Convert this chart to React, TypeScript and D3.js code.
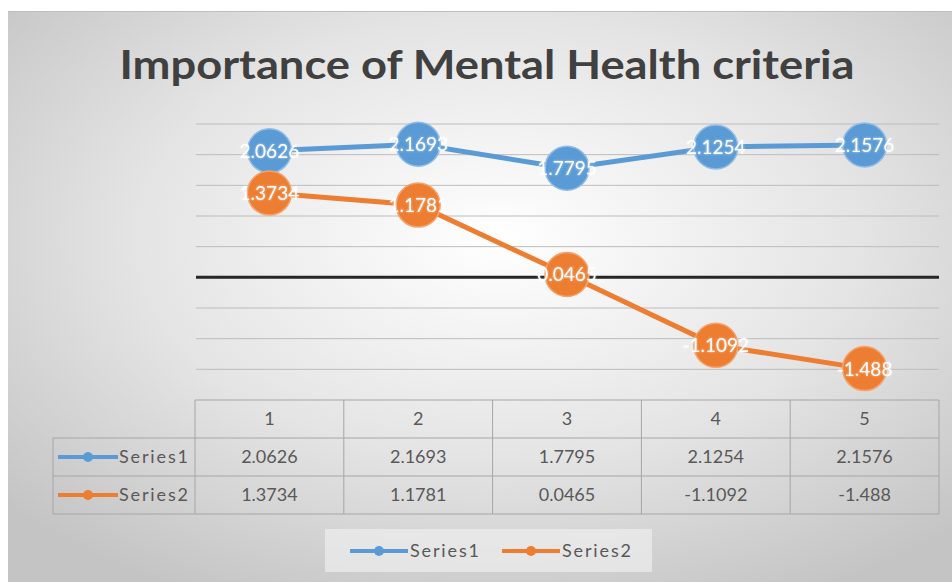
import React from 'react';
import * as d3 from 'd3';

// ── Data ──────────────────────────────────────────────────────────────────────
const CATEGORIES = ['1', '2', '3', '4', '5'];
const SERIES1 = [2.0626, 2.1693, 1.7795, 2.1254, 2.1576];
const SERIES2 = [1.3734, 1.1781, 0.0465, -1.1092, -1.488];
const SERIES_NAMES = ['Series1', 'Series2'];
const Y_TICKS = [-1.5, -1, -0.5, 0, 0.5, 1, 1.5, 2, 2.5];

const COLORS = ['#5B9BD5', '#ED7D31'];
const FONT = 'Lato, "Open Sans", sans-serif';

const W = 952;
const H = 582;

export default function App() {
  const plot = { left: 195, right: 939, top: 124, bottom: 400 };
  const x = d3.scaleBand<string>().domain(CATEGORIES).range([plot.left, plot.right]);
  const y = d3.scaleLinear().domain([-2, 2.5]).range([plot.bottom, plot.top]);
  const cx = (c: string) => (x(c) ?? 0) + x.bandwidth() / 2;

  const line = d3.line<number>()
    .x((_, i) => cx(CATEGORIES[i]))
    .y(d => y(d));

  const series = [SERIES1, SERIES2];

  // data table rows
  const rowH = 38;
  const tableTop = plot.bottom;
  const labelLeft = 53;

  return (
    <>
      <style>{'body{margin:0}'}</style>
      <svg width={W} height={H} style={{ display: 'block', fontFamily: FONT }}>
        <defs>
          <radialGradient id="bg" cx="52%" cy="40%" r="70%">
            <stop offset="0%" stopColor="#ffffff" />
            <stop offset="55%" stopColor="#e4e4e4" />
            <stop offset="100%" stopColor="#c4c4c4" />
          </radialGradient>
          <filter id="glow" x="-20%" y="-40%" width="140%" height="180%">
            <feGaussianBlur in="SourceAlpha" stdDeviation="1.2" result="b" />
            <feFlood floodColor="#ffffff" floodOpacity="0.6" />
            <feComposite in2="b" operator="in" result="g" />
            <feMerge>
              <feMergeNode in="g" />
              <feMergeNode in="SourceGraphic" />
            </feMerge>
          </filter>
        </defs>

        <rect x={0} y={0} width={W} height={H} fill="#ffffff" />
        <rect x={8} y={11} width={W - 8} height={H - 11} fill="url(#bg)" />
        <line x1={8} x2={W} y1={11.5} y2={11.5} stroke="#bdbdbd" strokeWidth={1} />

        {/* Title */}
        <text
          x={487} y={79} textAnchor="middle" fontSize={40} fontWeight={700}
          fill="#404040" textLength={735} lengthAdjust="spacingAndGlyphs"
        >
          Importance of Mental Health criteria
        </text>

        {/* Gridlines */}
        {Y_TICKS.map(t => (
          <line
            key={t}
            x1={plot.left + 1} x2={plot.right}
            y1={y(t)} y2={y(t)}
            stroke={t === 0 ? '#262626' : '#bcbcbc'}
            strokeWidth={t === 0 ? 3 : 1}
          />
        ))}

        {/* Lines */}
        {series.map((s, si) => (
          <path key={si} d={line(s) ?? ''} fill="none" stroke={COLORS[si]} strokeWidth={5} />
        ))}

        {/* Markers + labels */}
        {series.map((s, si) => (
          <g key={si}>
            {s.map((v, i) => (
              <g key={i}>
                <circle
                  cx={cx(CATEGORIES[i])} cy={y(v)} r={22}
                  fill={COLORS[si]} stroke={si === 0 ? '#8fbbe6' : '#f4a36f'} strokeWidth={1.5}
                />
                <text
                  x={cx(CATEGORIES[i])} y={y(v) + 7} textAnchor="middle"
                  fontSize={19} fill="#ffffff" filter="url(#glow)"
                >
                  {String(v)}
                </text>
              </g>
            ))}
          </g>
        ))}

        {/* Data table */}
        <g stroke="#a6a6a6" strokeWidth={1} fill="none">
          <line x1={plot.left} x2={plot.right} y1={tableTop} y2={tableTop} />
          <line x1={labelLeft} x2={plot.right} y1={tableTop + rowH} y2={tableTop + rowH} />
          <line x1={labelLeft} x2={plot.right} y1={tableTop + rowH * 2} y2={tableTop + rowH * 2} />
          <line x1={labelLeft} x2={plot.right} y1={tableTop + rowH * 3} y2={tableTop + rowH * 3} />
          <line x1={labelLeft} x2={labelLeft} y1={tableTop + rowH} y2={tableTop + rowH * 3} />
          {CATEGORIES.map(c => (
            <line key={c} x1={x(c)} x2={x(c)} y1={tableTop} y2={tableTop + rowH * 3} />
          ))}
          <line x1={plot.right} x2={plot.right} y1={tableTop} y2={tableTop + rowH * 3} />
        </g>
        {CATEGORIES.map(c => (
          <text key={c} x={cx(c)} y={tableTop + rowH / 2 + 6} textAnchor="middle" fontSize={18} fill="#595959">
            {c}
          </text>
        ))}
        {series.map((s, si) => {
          const rowY = tableTop + rowH * (si + 1) + rowH / 2;
          return (
            <g key={si}>
              <line x1={58} x2={118} y1={rowY} y2={rowY} stroke={COLORS[si]} strokeWidth={4} />
              <circle cx={88} cy={rowY} r={5} fill={COLORS[si]} />
              <text x={119} y={rowY + 6} fontSize={18} fill="#595959" textLength={69} lengthAdjust="spacing">
                {SERIES_NAMES[si]}
              </text>
              {s.map((v, i) => (
                <text key={i} x={cx(CATEGORIES[i])} y={rowY + 6} textAnchor="middle" fontSize={18} fill="#595959">
                  {String(v)}
                </text>
              ))}
            </g>
          );
        })}

        {/* Legend */}
        <rect x={325} y={529} width={327} height={43} fill="#eeeeee" opacity={0.7} />
        {SERIES_NAMES.map((name, si) => {
          const lx = 350 + si * 152;
          const ly = 551;
          return (
            <g key={name}>
              <line x1={lx} x2={lx + 58} y1={ly} y2={ly} stroke={COLORS[si]} strokeWidth={4} />
              <circle cx={lx + 29} cy={ly} r={5} fill={COLORS[si]} />
              <text x={lx + 60} y={ly + 6} fontSize={18} fill="#595959" textLength={69} lengthAdjust="spacing">
                {name}
              </text>
            </g>
          );
        })}
      </svg>
    </>
  );
}
